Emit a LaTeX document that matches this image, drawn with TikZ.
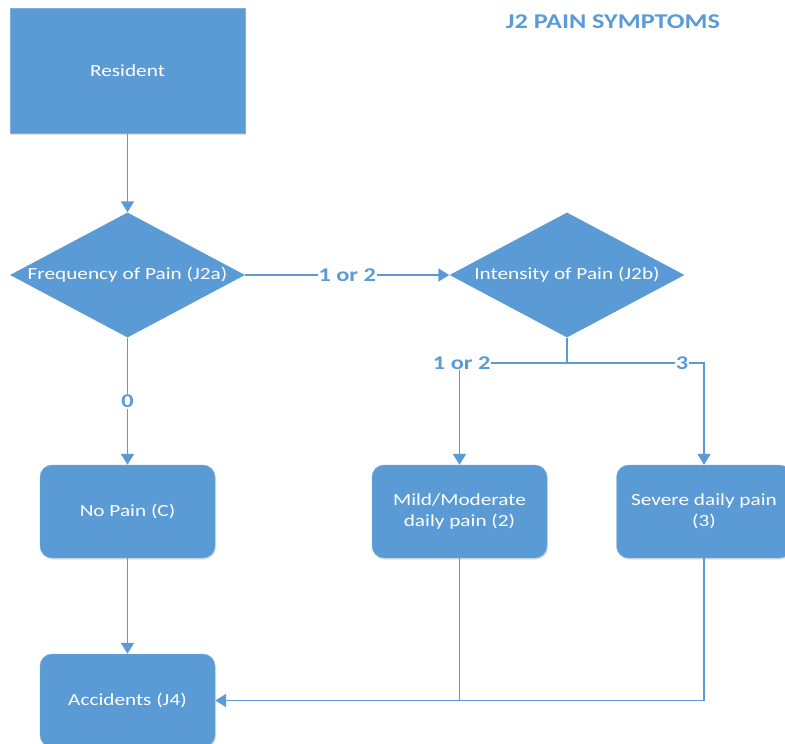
\documentclass[tikz,border=0pt]{standalone}
\usepackage{fontspec}
\setmainfont[FakeStretch=1.25]{Carlito}
\usepackage{xcolor}
\usetikzlibrary{arrows.meta, shapes.geometric, shadows}
\definecolor{painblue}{HTML}{5B9BD5}

\begin{document}
\begin{tikzpicture}[
  x=1pt, y=-1pt,
  boxtext/.style={text=white, font=\fontsize{17}{21}\selectfont, align=center},
  square/.style={boxtext, draw=painblue!80!white, fill=painblue, minimum width=235pt, minimum height=125pt, inner sep=0pt,
    drop shadow={shadow xshift=1pt, shadow yshift=-1.5pt, fill=black, opacity=0.12}},
  decision/.style={boxtext, diamond, fill=painblue, minimum width=235pt, minimum height=125pt, inner sep=0pt},
  outcome/.style={boxtext, draw=painblue!80!white, fill=painblue, rounded corners=12pt, minimum width=175pt, minimum height=93pt, inner sep=0pt,
    drop shadow={shadow xshift=1pt, shadow yshift=-1.5pt, fill=black, opacity=0.12}},
  line/.style={draw=painblue, line width=1.9pt},
  link/.style={line, -{Triangle[width=13pt, length=11pt]}},
  choice/.style={fill=white, text=painblue, inner sep=1pt, font=\fontsize{19.5}{21}\selectfont\bfseries}
]
  \useasboundingbox (0,0) rectangle (785,744);

  \node[text=painblue, font=\fontsize{21}{23}\selectfont\bfseries] (title) at (613,22) {J2 PAIN SYMPTOMS};

  \node[square] (resident) at (127.5,70.5) {Resident};
  \node[decision] (freq) at (127.5,275) {\makebox[0pt]{Frequency of Pain (J2a)}};
  \node[decision] (inten) at (567,275) {\makebox[0pt]{Intensity of Pain (J2b)}};
  \node[outcome] (nopain) at (127.5,511.5) {No Pain (C)};
  \node[outcome] (mild) at (459.5,511.5) {Mild/Moderate\\daily pain (2)};
  \node[outcome] (severe) at (704,511.5) {Severe daily pain\\(3)};
  \node[outcome] (accidents) at (127.5,700.5) {Accidents (J4)};

  \draw[link] (resident) -- (freq);
  \draw[link] (freq) -- node[choice] {1 or 2} (inten);
  \draw[link] (freq) -- node[choice] {0} (nopain);

  % split below the intensity question
  \draw[line] (inten.south) -- ++(0,25) coordinate (fork);
  \draw[link] (fork) -| node[choice, pos=0.49] {1 or 2} (mild);
  \draw[link] (fork) -| node[choice, pos=0.42] {3} (severe);

  % back to accidents
  \draw[link] (nopain) -- (accidents);
  \draw[line] (mild.south) -- (mild.south |- accidents.east);
  \draw[link] (severe.south) |- (accidents.east);
\end{tikzpicture}
\end{document}
